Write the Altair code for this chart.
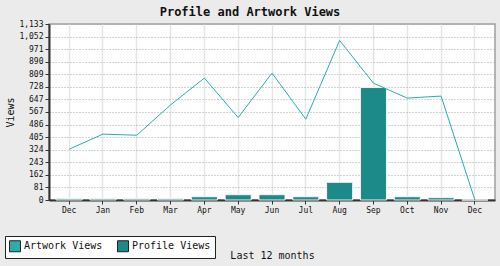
import altair as alt
import pandas as pd

months = ["Dec", "Jan", "Feb", "Mar", "Apr", "May", "Jun", "Jul", "Aug", "Sep", "Oct", "Nov", "Dec"]
artwork_views = [327, 424, 417, 612, 785, 531, 817, 520, 1027, 752, 656, 669, 0]
profile_views = [8, 8, 8, 8, 21, 34, 34, 21, 114, 724, 21, 15, 0]
y_ticks = [0, 81, 162, 243, 324, 405, 486, 567, 647, 728, 809, 890, 971, 1052, 1133]
series = ["Artwork Views", "Profile Views"]
colors = ["#2aadad", "#1c8a88"]

idx = list(range(len(months)))
df_line = pd.DataFrame({"i": idx, "views": artwork_views, "series": series[0]})
df_bar = pd.DataFrame({"i": idx, "views": profile_views, "series": series[1]})

FONT = "DejaVu Sans Mono"
label_expr = "[" + ",".join("'%s'" % m for m in months) + "][datum.value]"

xscale = alt.Scale(paddingInner=0.23, paddingOuter=0.21)
yscale = alt.Scale(domain=[0, 1133], nice=False)

xaxis = alt.Axis(title="Last 12 months", labelExpr=label_expr, labelAngle=0,
                 grid=True, gridColor="#e6e6e6", gridWidth=1.5,
                 domainColor="#333333", domainWidth=2,
                 tickColor="#333333", tickSize=4,
                 labelFont=FONT, labelFontSize=8, labelColor="#111111", labelPadding=2,
                 titleFont=FONT, titleFontSize=10, titleFontWeight="normal",
                 titleColor="#111111", titlePadding=36)
yaxis = alt.Axis(title="Views", values=y_ticks, format=",d", labelOverlap=False,
                 tickCount=len(y_ticks),
                 grid=True, gridColor="#a8a8a8", gridDash=[1, 2], gridWidth=1,
                 domainColor="#333333", domainWidth=2,
                 tickColor="#333333", tickSize=4,
                 labelFont=FONT, labelFontSize=8, labelColor="#111111", labelPadding=2,
                 titleFont=FONT, titleFontSize=10, titleFontWeight="normal",
                 titleColor="#111111", titlePadding=3)

bars = alt.Chart(df_bar).mark_bar(stroke="#f4f4f4", strokeWidth=1).encode(
    x=alt.X("i:O", scale=xscale, sort=idx, axis=xaxis),
    y=alt.Y("views:Q", scale=yscale, axis=yaxis),
    color=alt.Color("series:N", scale=alt.Scale(domain=series, range=colors),
                    legend=alt.Legend(title=None, orient="none", legendX=-44, legendY=212,
                                      direction="horizontal", symbolType="square",
                                      symbolSize=121, symbolStrokeColor="#222222",
                                      symbolStrokeWidth=1, symbolOpacity=1,
                                      labelFont=FONT, labelFontSize=10, labelColor="#111111",
                                      labelOffset=3, columnPadding=12,
                                      strokeColor="#222222", fillColor="#ffffff",
                                      padding=4, cornerRadius=0)),
)

line = alt.Chart(df_line).mark_line(color=colors[0], strokeWidth=1).encode(
    x=alt.X("i:O", scale=xscale, sort=idx, axis=xaxis),
    y=alt.Y("views:Q", scale=yscale, axis=yaxis),
)

chart = alt.layer(bars, line).properties(
    width=446, height=176,
    title=alt.TitleParams("Profile and Artwork Views", font=FONT, fontSize=12,
                          fontWeight="bold", color="#111111", anchor="middle",
                          dx=-22, offset=1),
    autosize=alt.AutoSizeParams(type="none"),
    padding={"left": 49, "top": 24, "right": 5, "bottom": 66},
    background="#ebebeb",
).configure_view(
    fill="#ffffff", stroke="#a0a0a0", strokeWidth=1.5
).configure_axis(
    labelOverlap=False
)

chart.save("out.html", embed_options={"renderer": "svg", "actions": False})
